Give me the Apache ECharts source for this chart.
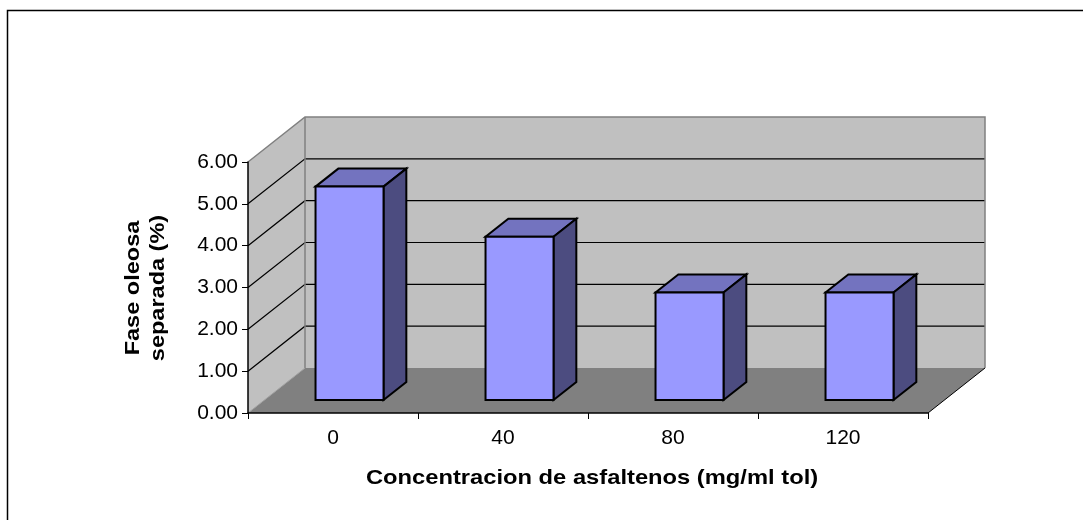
<!DOCTYPE html>
<html>
<head>
<meta charset="utf-8">
<script src="https://cdn.jsdelivr.net/npm/echarts@6/dist/echarts.min.js"></script>
<style>
  html, body { margin: 0; padding: 0; background: #ffffff; }
  #chart { width: 1083px; height: 520px; }
</style>
</head>
<body>
<div id="chart"></div>
<script>
// Asphaltene concentration categories and separated oily phase (%)
const CATEGORIES = ['0', '40', '80', '120'];
const VALUES = [5.10, 3.90, 2.57, 2.57];
// Value axis range and the gridlines drawn on the back wall
const Y_MIN = 0;
const Y_MAX = 6;
const Y_STEP = 1;
const GRID_VALUES = [1, 2, 3, 4, 5];

const X_TITLE = 'Concentracion de asfaltenos (mg/ml tol)';
const Y_TITLE = 'Fase oleosa\nseparada (%)';

// 3D projection: offset from the front plane to the back wall
const DEPTH_DX = 57;
const DEPTH_DY = 45;
// Bars occupy this slice of the floor depth and this share of a category
const BAR_DEPTH_FRONT = 0.29;
const BAR_DEPTH_BACK = 0.69;
const BAR_WIDTH_SHARE = 0.4;

const FONT = '"Liberation Sans", Arial, Helvetica, sans-serif';

const chart = echarts.init(document.getElementById('chart'), null, { renderer: 'canvas' });

function renderWalls(params, api) {
  const cs = params.coordSys;
  const L = cs.x, R = cs.x + cs.width, T = cs.y, B = cs.y + cs.height;
  const dx = DEPTH_DX, dy = DEPTH_DY;
  const children = [];
  // side wall
  children.push({
    type: 'polygon',
    shape: { points: [[L, T], [L + dx, T - dy], [L + dx, B - dy], [L, B]] },
    style: { fill: '#c0c0c0' }
  });
  // back wall
  children.push({
    type: 'rect',
    shape: { x: L + dx, y: T - dy, width: R - L, height: B - T },
    style: { fill: '#c0c0c0' }
  });
  // floor
  children.push({
    type: 'polygon',
    shape: { points: [[L, B], [R, B], [R + dx, B - dy], [L + dx, B - dy]] },
    style: { fill: '#808080' }
  });
  // gridlines: diagonal on the side wall, horizontal on the back wall
  GRID_VALUES.forEach(function (v) {
    const y = api.coord([0, v])[1];
    children.push({
      type: 'polyline',
      shape: { points: [[L, y], [L + dx, y - dy], [R + dx, y - dy]] },
      style: { stroke: '#000000', lineWidth: 1.2, fill: null }
    });
  });
  // wall edges
  const edge = { stroke: '#808080', lineWidth: 1.5, fill: null };
  children.push({
    type: 'polyline',
    shape: { points: [[L, T], [L + dx, T - dy], [R + dx, T - dy], [R + dx, B - dy]] },
    style: edge
  });
  children.push({
    type: 'line',
    shape: { x1: L + dx, y1: T - dy, x2: L + dx, y2: B - dy },
    style: edge
  });
  children.push({
    type: 'line',
    shape: { x1: L, y1: B, x2: L + dx, y2: B - dy },
    style: { stroke: '#a0a0a0', lineWidth: 1 }
  });
  children.push({
    type: 'line',
    shape: { x1: R, y1: B, x2: R + dx, y2: B - dy },
    style: { stroke: '#000000', lineWidth: 1 }
  });
  return { type: 'group', children: children };
}

function renderBar(params, api) {
  const idx = api.value(0);
  const val = api.value(1);
  const base = api.coord([idx, 0]);
  const top = api.coord([idx, val]);
  const half = api.size([1, 0])[0] * BAR_WIDTH_SHARE / 2;
  const x0 = base[0] - half, x1 = base[0] + half;
  const y0 = base[1], yv = top[1];
  const ax = BAR_DEPTH_FRONT * DEPTH_DX, ay = BAR_DEPTH_FRONT * DEPTH_DY;
  const bx = BAR_DEPTH_BACK * DEPTH_DX, by = BAR_DEPTH_BACK * DEPTH_DY;
  const outline = { stroke: '#000000', lineWidth: 2, lineJoin: 'miter' };
  return {
    type: 'group',
    children: [
      {
        type: 'polygon',
        shape: { points: [[x0 + ax, yv - ay], [x1 + ax, yv - ay], [x1 + bx, yv - by], [x0 + bx, yv - by]] },
        style: Object.assign({ fill: '#7373bf' }, outline)
      },
      {
        type: 'polygon',
        shape: { points: [[x1 + ax, yv - ay], [x1 + bx, yv - by], [x1 + bx, y0 - by], [x1 + ax, y0 - ay]] },
        style: Object.assign({ fill: '#4c4c80' }, outline)
      },
      {
        type: 'polygon',
        shape: { points: [[x0 + ax, yv - ay], [x1 + ax, yv - ay], [x1 + ax, y0 - ay], [x0 + ax, y0 - ay]] },
        style: Object.assign({ fill: '#9999ff' }, outline)
      }
    ]
  };
}

const option = {
  backgroundColor: '#ffffff',
  animation: false,
  grid: { left: 248, top: 162, width: 680, height: 251, containLabel: false },
  xAxis: {
    type: 'category',
    data: CATEGORIES,
    boundaryGap: true,
    z: 10,
    axisLine: { show: true, lineStyle: { color: '#000000', width: 1.5 } },
    axisTick: { show: true, alignWithLabel: false, length: 6, lineStyle: { color: '#000000' } },
    axisLabel: { color: '#000000', fontSize: 21, fontFamily: FONT, margin: 15 },
    splitLine: { show: false }
  },
  yAxis: {
    type: 'value',
    min: Y_MIN,
    max: Y_MAX,
    interval: Y_STEP,
    z: 10,
    axisLine: { show: true, lineStyle: { color: '#000000', width: 1.5 } },
    axisTick: { show: true, length: 6, lineStyle: { color: '#000000' } },
    axisLabel: {
      color: '#000000', fontSize: 21, fontFamily: FONT, margin: 10,
      formatter: function (v) { return v.toFixed(2); }
    },
    splitLine: { show: false }
  },
  graphic: [
    {
      type: 'rect',
      shape: { x: 7.5, y: 10.5, width: 1100, height: 540 },
      style: { fill: null, stroke: '#000000', lineWidth: 1.5 },
      silent: true
    },
    {
      type: 'text',
      x: 592, y: 478,
      scaleX: 1.13,
      style: {
        text: X_TITLE, fill: '#000000',
        font: 'bold 21px ' + FONT,
        textAlign: 'center', textVerticalAlign: 'middle'
      }
    },
    {
      type: 'text',
      x: 146, y: 288,
      rotation: Math.PI / 2,
      scaleX: 1.12,
      style: {
        text: Y_TITLE, fill: '#000000',
        font: 'bold 21px ' + FONT,
        lineHeight: 25,
        textAlign: 'center', textVerticalAlign: 'middle'
      }
    }
  ],
  series: [
    {
      type: 'custom',
      name: 'walls',
      z: 1,
      clip: false,
      silent: true,
      renderItem: renderWalls,
      data: [[0, 0]],
      encode: { x: 0, y: 1 }
    },
    {
      type: 'custom',
      name: 'Fase oleosa separada',
      z: 3,
      clip: false,
      renderItem: renderBar,
      data: VALUES.map(function (v, i) { return [i, v]; }),
      encode: { x: 0, y: 1 }
    }
  ]
};

chart.setOption(option);
</script>
</body>
</html>
